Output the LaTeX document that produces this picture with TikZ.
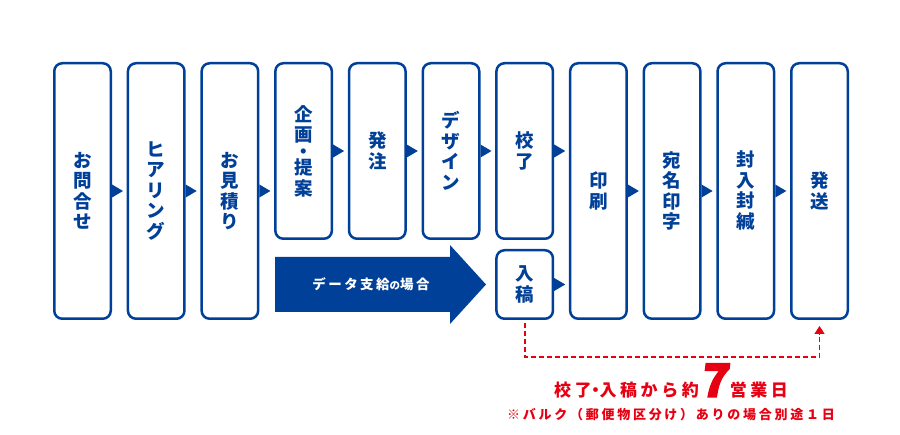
\documentclass[tikz,border=0pt]{standalone}
\usepackage{fontspec}
\newfontfamily\jp{Noto Sans CJK JP}
\newfontfamily\jpls{Noto Sans CJK JP}[LetterSpace=18]
\newfontfamily\jplsw{Noto Sans CJK JP}[LetterSpace=21]
\newfontfamily\jpseven{Noto Sans CJK JP}[FakeSlant=0.12, FakeBold=3]
\usetikzlibrary{arrows.meta}
\definecolor{navy}{RGB}{0,64,152}
\definecolor{redc}{RGB}{230,0,18}
\newcommand\flowtri[1]{\fill[navy] ([yshift=-6.5pt]#1.east) -- ([xshift=11pt]#1.east) -- ([yshift=6.5pt]#1.east) -- cycle;}
\begin{document}
\begin{tikzpicture}[x=1pt,y=-1pt,
  box/.style={draw=navy, line width=2.5pt, rounded corners=8pt, fill=white,
    minimum width=56.5pt, inner sep=0pt, text=navy,
    font=\jp\bfseries\fontsize{18.5}{20.5}\selectfont, align=center},
  tall/.style={box, minimum height=255.5pt},
  upper/.style={box, minimum height=175.5pt},
  lower/.style={box, minimum height=68.5pt},
]
\useasboundingbox (0,0) rectangle (900,435);
% tall boxes
\node[tall] (b1) at (82.5,191) {お\\問\\合\\せ};
\node[tall] (b2) at (156.2,191) {ヒ\\ア\\リ\\ン\\グ};
\node[tall] (b3) at (229.9,191) {お\\見\\積\\り};
% upper boxes
\node[upper] (b4) at (303.6,151) {企\\画\\[-4pt]・\\[-4pt]提\\案};
\node[upper] (b5) at (377.3,151) {発\\注};
\node[upper] (b6) at (451.0,151) {デ\\ザ\\イ\\ン};
\node[upper] (b7) at (524.7,151) {校\\了};
\node[lower] (b7b) at (524.7,284.5) {入\\稿};
% tall boxes right
\node[tall] (b8) at (598.4,191) {印\\刷};
\node[tall] (b9) at (672.1,191) {宛\\名\\印\\字};
\node[tall] (b10) at (745.8,191) {封\\入\\封\\緘};
\node[tall] (b11) at (819.5,191) {発\\送};
% small triangles
\flowtri{b1}\flowtri{b2}\flowtri{b3}\flowtri{b4}\flowtri{b5}\flowtri{b6}\flowtri{b7}\flowtri{b7b}\flowtri{b8}\flowtri{b9}\flowtri{b10}
% big arrow
\fill[navy] (275,257) -- (450,257) -- (450,245) -- (486,284.5) -- (450,324) -- (450,312) -- (275,312) -- cycle;
\node[text=white, font=\jpls\bfseries\fontsize{13.5}{14}\selectfont] (data) at (371,284) {データ支給{\fontsize{10.5}{11}\selectfont の}場合};
% red dashed connector
\draw[redc, line width=1.6pt, dash pattern=on 5pt off 3pt, -{Triangle[width=10pt,length=8pt]}]
  ([yshift=-3pt]b7b.south) -- ++(0,34) -| ([yshift=-6pt]b11.south);
% red texts
\node[anchor=base, text=redc, inner sep=0pt] (lead) at (671,397)
  {{\jplsw\bfseries\fontsize{17}{17}\selectfont 校了\kern-4.5pt・\kern-4.5pt入稿から約}\kern1pt{\jpseven\bfseries\fontsize{46}{46}\selectfont 7}\kern2pt{\jplsw\bfseries\fontsize{17}{17}\selectfont 営業日}};
\node[text=redc, inner sep=0pt, font=\jplsw\bfseries\fontsize{13}{14}\selectfont] (note) at (671,415)
  {※バルク（郵便物区分け）ありの場合別途１日};
\end{tikzpicture}
\end{document}
